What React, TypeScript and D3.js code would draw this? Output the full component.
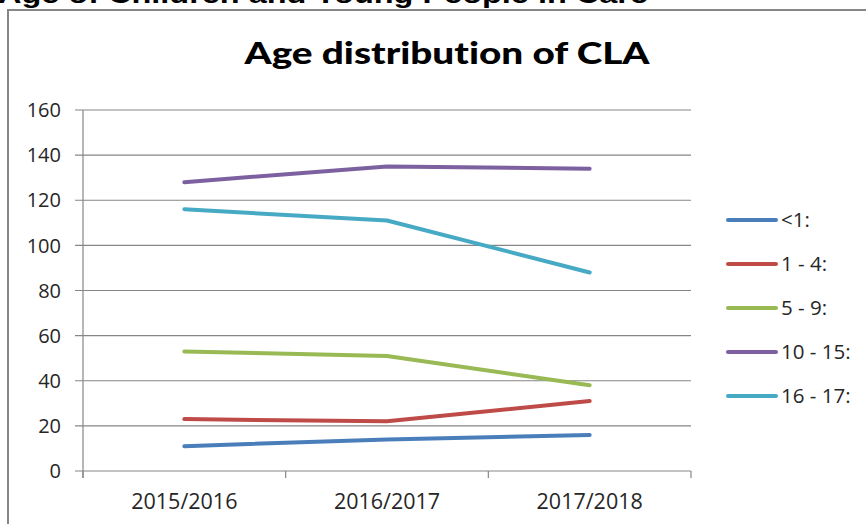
import React from "react";
import * as d3 from "d3";

const periods = ["2015/2016", "2016/2017", "2017/2018"];
const ageGroups = ["<1:", "1 - 4:", "5 - 9:", "10 - 15:", "16 - 17:"];
const under1 = [11, 14, 16];
const age1to4 = [23, 22, 31];
const age5to9 = [53, 51, 38];
const age10to15 = [128, 135, 134];
const age16to17 = [116, 111, 88];
const yTicks = [0, 20, 40, 60, 80, 100, 120, 140, 160];
const seriesColors = ["#4A7EBB", "#BE4B48", "#98B954", "#7D60A0", "#46AAC5"];

const seriesValues = [under1, age1to4, age5to9, age10to15, age16to17];

const W = 866;
const H = 524;
const plot = { left: 83, right: 691, top: 110, bottom: 471 };
const FONT = "'Open Sans', 'Noto Sans', sans-serif";
const TITLE_FONT = "Lato, 'Open Sans', sans-serif";
const GRID = "#868686";
const TEXT = "#262626";

export default function App() {
  const x = d3
    .scaleBand<string>()
    .domain(periods)
    .range([plot.left, plot.right]);
  const y = d3.scaleLinear().domain([0, 160]).range([plot.bottom, plot.top]);
  const line = d3
    .line<number>()
    .x((_, i) => (x(periods[i]) as number) + x.bandwidth() / 2)
    .y((d) => y(d));

  const boundaries = [...periods.map((p) => x(p) as number), plot.right];

  return (
    <svg
      width={W}
      height={H}
      style={{ position: "absolute", left: 0, top: 0, background: "#fff" }}
    >
      {/* heading of the surrounding document, mostly above the view */}
      <text
        x={-2}
        y={3}
        fontFamily="'Liberation Sans', Arial, sans-serif"
        fontWeight="bold"
        fontSize={26}
        textLength={650}
        lengthAdjust="spacingAndGlyphs"
        fill="#000"
      >
        Age of Children and Young People in Care
      </text>

      {/* chart frame */}
      <rect x={8} y={10} width={1000} height={700} fill="#fff" stroke={GRID} strokeWidth={2} />

      <text
        x={447}
        y={64}
        textAnchor="middle"
        fontFamily={TITLE_FONT}
        fontWeight={900}
        fontSize={31}
        textLength={405}
        lengthAdjust="spacingAndGlyphs"
        fill="#000"
        style={{ fontVariantLigatures: "none" }}
      >
        Age distribution of CLA
      </text>

      {/* gridlines and y ticks */}
      {yTicks.map((t) => (
        <g key={t}>
          <line
            x1={plot.left - 8}
            x2={plot.right}
            y1={y(t)}
            y2={y(t)}
            stroke={GRID}
            strokeWidth={1.2}
          />
          <text
            x={61}
            y={y(t)}
            dy="0.36em"
            textAnchor="end"
            fontFamily={FONT}
            fontSize={20}
            fill={TEXT}
          >
            {t}
          </text>
        </g>
      ))}

      {/* y axis line */}
      <line x1={plot.left} x2={plot.left} y1={plot.top} y2={plot.bottom + 7} stroke={GRID} strokeWidth={1.2} />

      {/* x ticks at category boundaries */}
      {boundaries.map((b, i) => (
        <line key={i} x1={b} x2={b} y1={plot.bottom} y2={plot.bottom + 7} stroke={GRID} strokeWidth={1.2} />
      ))}

      {periods.map((p) => (
        <text
          key={p}
          x={(x(p) as number) + x.bandwidth() / 2}
          y={509}
          textAnchor="middle"
          fontFamily={FONT}
          fontSize={21.5}
          fill={TEXT}
        >
          {p}
        </text>
      ))}

      {/* series lines */}
      {seriesValues.map((vals, i) => (
        <path
          key={ageGroups[i]}
          d={line(vals) as string}
          fill="none"
          stroke={seriesColors[i]}
          strokeWidth={4}
          strokeLinecap="round"
          strokeLinejoin="round"
        />
      ))}

      {/* legend */}
      {ageGroups.map((g, i) => {
        const ly = 220 + i * 44;
        return (
          <g key={g}>
            <line
              x1={728}
              x2={776}
              y1={ly}
              y2={ly}
              stroke={seriesColors[i]}
              strokeWidth={4}
              strokeLinecap="round"
            />
            <text
              x={781}
              y={ly}
              dy="0.36em"
              fontFamily={FONT}
              fontSize={20.5}
              fill={TEXT}
            >
              {g}
            </text>
          </g>
        );
      })}
    </svg>
  );
}
